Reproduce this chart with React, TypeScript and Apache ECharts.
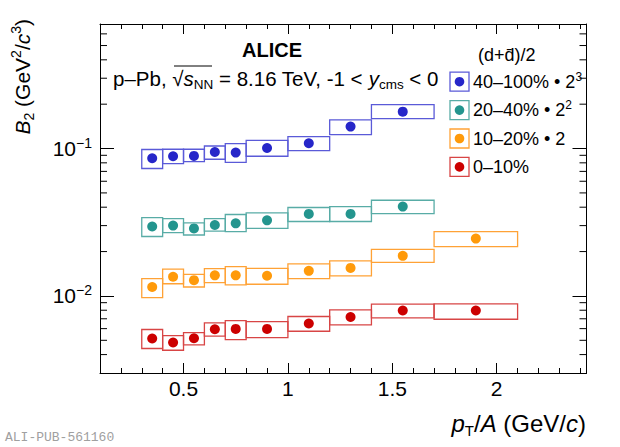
import React, { useEffect, useRef } from "react";
import * as echarts from "echarts";

// ---------- data ----------
const binLow = [0.3, 0.4, 0.5, 0.6, 0.7, 0.8, 1.0, 1.2, 1.4, 1.7];
const binHigh = [0.4, 0.5, 0.6, 0.7, 0.8, 1.0, 1.2, 1.4, 1.7, 2.1];
const binCenter = [0.35, 0.45, 0.55, 0.65, 0.75, 0.9, 1.1, 1.3, 1.55, 1.9];

// 40-100% x 2^3
const blueB2 = [0.0859, 0.0887, 0.0891, 0.0948, 0.0939, 0.1009, 0.1086, 0.141, 0.178];
const blueLo = [0.0732, 0.0791, 0.0816, 0.0846, 0.0807, 0.0887, 0.0969, 0.1245, 0.1597];
const blueHi = [0.0985, 0.0989, 0.0989, 0.1041, 0.1081, 0.1138, 0.1206, 0.1563, 0.1988];
// 20-40% x 2^2
const tealB2 = [0.0296, 0.03, 0.0287, 0.0303, 0.0311, 0.0326, 0.036, 0.036, 0.0404];
const tealLo = [0.0253, 0.0269, 0.0259, 0.0275, 0.0273, 0.0287, 0.032, 0.032, 0.0362];
const tealHi = [0.034, 0.0335, 0.0313, 0.0335, 0.0357, 0.0366, 0.0398, 0.0404, 0.0446];
// 10-20% x 2
const orangeB2 = [0.0115, 0.0135, 0.0128, 0.0138, 0.0138, 0.0137, 0.0148, 0.0155, 0.0187, 0.0245];
const orangeLo = [0.00975, 0.0121, 0.0115, 0.0123, 0.0119, 0.012, 0.0131, 0.0137, 0.0169, 0.0216];
const orangeHi = [0.0131, 0.0152, 0.014, 0.0153, 0.0158, 0.0154, 0.0165, 0.0173, 0.0207, 0.0273];
// 0-10%
const redB2 = [0.00514, 0.00483, 0.00516, 0.00594, 0.00597, 0.00597, 0.0065, 0.0072, 0.00796, 0.00796];
const redLo = [0.0044, 0.00428, 0.00465, 0.00533, 0.00506, 0.00522, 0.00576, 0.00636, 0.00709, 0.00695];
const redHi = [0.00592, 0.00538, 0.00564, 0.00656, 0.00681, 0.0067, 0.00725, 0.00804, 0.00879, 0.00883];

const seriesNames = ["40–100% • 2³", "20–40% • 2²", "10–20% • 2", "0–10%"];
const legendBase = ["40–100% • 2", "20–40% • 2", "10–20% • 2", "0–10%"];
const legendSup = ["3", "2", "", ""];
const pointColors = ["#2626c9", "#24958e", "#ff9a0a", "#cc0000"];
const boxColors = ["#5a5ad8", "#58aca6", "#ffa236", "#d84545"];

const xMajorTicks = [0.5, 1, 1.5, 2];
const xMinorTicks = [0.2, 0.3, 0.4, 0.6, 0.7, 0.8, 0.9, 1.1, 1.2, 1.3, 1.4, 1.6, 1.7, 1.8, 1.9, 2.1, 2.2, 2.3, 2.4];
const yMinorTicks = [0.004, 0.005, 0.006, 0.007, 0.008, 0.009, 0.02, 0.03, 0.04, 0.05, 0.06, 0.07, 0.08, 0.09, 0.2, 0.3, 0.4, 0.5, 0.6];
const xLabels = ["0.5", "1", "1.5", "2"];

const X_MIN = 0.1;
const X_MAX = 2.43;
const Y_MIN = 0.003;
const Y_MAX = 0.7;

const FONT = '"Liberation Sans", Arial, Helvetica, sans-serif';

export default function App() {
  const ref = useRef<HTMLDivElement>(null);

  useEffect(() => {
    if (!ref.current) return;
    const chart = echarts.init(ref.current, undefined, { renderer: "svg" });

    const sets = [
      { b2: blueB2, lo: blueLo, hi: blueHi },
      { b2: tealB2, lo: tealLo, hi: tealHi },
      { b2: orangeB2, lo: orangeLo, hi: orangeHi },
      { b2: redB2, lo: redLo, hi: redHi },
    ];

    const boxSeries = sets.map((s, k) => ({
      type: "custom",
      name: seriesNames[k] + " syst",
      xAxisIndex: 0,
      yAxisIndex: 0,
      silent: true,
      clip: false,
      z: 3,
      encode: { x: [0, 1], y: [2, 3] },
      data: s.b2.map((_, i) => [binLow[i], binHigh[i], s.lo[i], s.hi[i]]),
      renderItem: (params: any, api: any) => {
        const p1 = api.coord([api.value(0), api.value(3)]);
        const p2 = api.coord([api.value(1), api.value(2)]);
        return {
          type: "rect",
          shape: { x: p1[0], y: p1[1], width: p2[0] - p1[0], height: p2[1] - p1[1] },
          style: { fill: "none", stroke: boxColors[k], lineWidth: 1.3 },
        };
      },
    }));

    const pointSeries = sets.map((s, k) => ({
      type: "scatter",
      name: seriesNames[k],
      xAxisIndex: 0,
      yAxisIndex: 0,
      symbol: "circle",
      symbolSize: 10,
      z: 5,
      itemStyle: { color: pointColors[k], opacity: 1 },
      data: s.b2.map((v, i) => [binCenter[i], v]),
    }));

    const minorTickSeries = {
      type: "custom",
      name: "yminor",
      xAxisIndex: 0,
      yAxisIndex: 0,
      silent: true,
      clip: false,
      z: 10,
      data: yMinorTicks.map((v) => [X_MIN, v]),
      renderItem: (params: any, api: any) => {
        const v = api.value(1);
        const pl = api.coord([X_MIN, v]);
        const pr = api.coord([X_MAX, v]);
        return {
          type: "group",
          children: [
            { type: "line", shape: { x1: pl[0], y1: pl[1], x2: pl[0] + 7, y2: pl[1] }, style: { stroke: "#000", lineWidth: 1 } },
            { type: "line", shape: { x1: pr[0] - 7, y1: pr[1], x2: pr[0], y2: pr[1] }, style: { stroke: "#000", lineWidth: 1 } },
          ],
        };
      },
    };

    const baseX = {
      type: "value",
      min: X_MIN,
      max: X_MAX,
      splitLine: { show: false },
      axisLine: { show: false, onZero: false },
      axisLabel: { show: false },
    };

    const legendTop = 81.7;
    const legendStep = 28.4;
    const legendGraphics: any[] = [];
    legendBase.forEach((name, k) => {
      const cy = legendTop + k * legendStep;
      legendGraphics.push({
        type: "rect",
        shape: { x: 450, y: cy - 9.5, width: 19, height: 19 },
        style: { fill: "none", stroke: boxColors[k], lineWidth: 1.3 },
      });
      legendGraphics.push({
        type: "circle",
        shape: { cx: 459.5, cy, r: 4.8 },
        style: { fill: pointColors[k] },
      });
      legendGraphics.push({
        type: "text",
        x: 473,
        y: cy,
        style: {
          text: legendSup[k] ? `{n|${name}}{sup|${legendSup[k]}}` : `{n|${name}}`,
          align: "left",
          verticalAlign: "middle",
          rich: {
            n: { fontSize: 18, fontFamily: FONT, fill: "#000", lineHeight: 22 },
            sup: { fontSize: 12, fontFamily: FONT, fill: "#000", lineHeight: 12, verticalAlign: "top" },
          },
        },
      });
    });

    const option: any = {
      animation: false,
      backgroundColor: "#fff",
      grid: { left: 100, top: 24, width: 486.5, height: 349, containLabel: false },
      xAxis: [
        {
          ...baseX,
          position: "bottom",
          axisLine: { show: true, onZero: false, lineStyle: { color: "#000", width: 1 } },
          axisTick: { show: true, inside: true, length: 10, customValues: xMajorTicks, lineStyle: { color: "#000" } },
          axisLabel: {
            show: true,
            customValues: xMajorTicks,
            margin: 5,
            fontSize: 21,
            fontFamily: FONT,
            color: "#000",
            formatter: (v: number) => {
              const i = xMajorTicks.findIndex((t) => Math.abs(t - v) < 1e-6);
              return i >= 0 ? xLabels[i] : "";
            },
          },
        },
        {
          ...baseX,
          position: "bottom",
          axisTick: { show: true, inside: true, length: 5, customValues: xMinorTicks, lineStyle: { color: "#000" } },
        },
        {
          ...baseX,
          position: "top",
          axisLine: { show: true, onZero: false, lineStyle: { color: "#000", width: 1 } },
          axisTick: { show: true, inside: true, length: 10, customValues: xMajorTicks, lineStyle: { color: "#000" } },
        },
        {
          ...baseX,
          position: "top",
          axisTick: { show: true, inside: true, length: 5, customValues: xMinorTicks, lineStyle: { color: "#000" } },
        },
      ],
      yAxis: [
        {
          type: "log",
          logBase: 10,
          min: Y_MIN,
          max: Y_MAX,
          position: "left",
          splitLine: { show: false },
          axisLine: { show: true, onZero: false, lineStyle: { color: "#000", width: 1 } },
          axisTick: { show: true, inside: true, length: 14, lineStyle: { color: "#000" } },
          axisLabel: {
            show: true,
            margin: 8,
            showMinLabel: true,
            showMaxLabel: true,
            formatter: (v: number) => {
              const l = Math.log10(v);
              const e = Math.round(l);
              if (Math.abs(l - e) < 1e-6) return `{b|10}{s|−${-e}}`;
              return "";
            },
            rich: {
              b: { fontSize: 21, fontFamily: FONT, color: "#000", lineHeight: 26 },
              s: { fontSize: 14, fontFamily: FONT, color: "#000", lineHeight: 14, verticalAlign: "top" },
            },
          },
        },
        {
          type: "log",
          logBase: 10,
          min: Y_MIN,
          max: Y_MAX,
          position: "right",
          splitLine: { show: false },
          axisLine: { show: true, onZero: false, lineStyle: { color: "#000", width: 1 } },
          axisTick: { show: true, inside: true, length: 14, lineStyle: { color: "#000" } },
          axisLabel: { show: false },
        },
      ],
      series: [...boxSeries, ...pointSeries, minorTickSeries],
      graphic: [
        {
          type: "text",
          x: 272,
          y: 50,
          style: { text: "ALICE", fontSize: 20, fontWeight: "bold", fontFamily: FONT, fill: "#000", align: "center", verticalAlign: "middle" },
        },
        {
          type: "text",
          x: 113,
          y: 78,
          style: {
            text: "{n|p–Pb, √}{i|s}{sub|NN}{n| = 8.16 TeV, -1 < }{i|y}{sub|cms}{n| < 0}",
            align: "left",
            verticalAlign: "middle",
            rich: {
              n: { fontSize: 20.5, fontFamily: FONT, fill: "#000", lineHeight: 26 },
              i: { fontSize: 20.5, fontFamily: FONT, fontStyle: "italic", fill: "#000", lineHeight: 26 },
              sub: { fontSize: 13.5, fontFamily: FONT, fill: "#000", lineHeight: 14, verticalAlign: "bottom" },
            },
          },
        },
        {
          type: "line",
          shape: { x1: 174, y1: 66, x2: 212, y2: 66 },
          style: { stroke: "#000", lineWidth: 1 },
        },
        {
          type: "text",
          x: 478,
          y: 55,
          style: { text: "(d+d̄)/2", fontSize: 18, fontFamily: FONT, fill: "#000", align: "left", verticalAlign: "middle" },
        },
        ...legendGraphics,
        {
          type: "text",
          x: 22,
          y: 19,
          rotation: Math.PI / 2,
          style: {
            text: "{i|B}{sub|2}{n| (GeV}{sup|2}{n|/}{i|c}{sup|3}{n|)}",
            align: "right",
            verticalAlign: "middle",
            rich: {
              n: { fontSize: 21, fontFamily: FONT, fill: "#000", lineHeight: 27 },
              i: { fontSize: 21, fontFamily: FONT, fontStyle: "italic", fill: "#000", lineHeight: 27 },
              sub: { fontSize: 14, fontFamily: FONT, fill: "#000", lineHeight: 14, verticalAlign: "bottom" },
              sup: { fontSize: 14, fontFamily: FONT, fill: "#000", lineHeight: 14, verticalAlign: "top" },
            },
          },
        },
        {
          type: "text",
          x: 586,
          y: 423,
          style: {
            text: "{i|p}{sub|T}{n|/}{i|A}{n| (GeV/}{i|c}{n|)}",
            align: "right",
            verticalAlign: "middle",
            rich: {
              n: { fontSize: 24, fontFamily: FONT, fill: "#000", lineHeight: 30 },
              i: { fontSize: 24, fontFamily: FONT, fontStyle: "italic", fill: "#000", lineHeight: 30 },
              sub: { fontSize: 15, fontFamily: FONT, fill: "#000", lineHeight: 15, verticalAlign: "bottom" },
            },
          },
        },
        {
          type: "text",
          x: 5,
          y: 437,
          style: { text: "ALI-PUB-561160", fontSize: 13, fontFamily: '"Liberation Mono", "DejaVu Sans Mono", monospace', fill: "#a0a0a0", align: "left", verticalAlign: "middle" },
        },
      ],
    };

    chart.setOption(option);
    return () => chart.dispose();
  }, []);

  return <div ref={ref} style={{ position: "absolute", left: 0, top: 0, width: 620, height: 447 }} />;
}
